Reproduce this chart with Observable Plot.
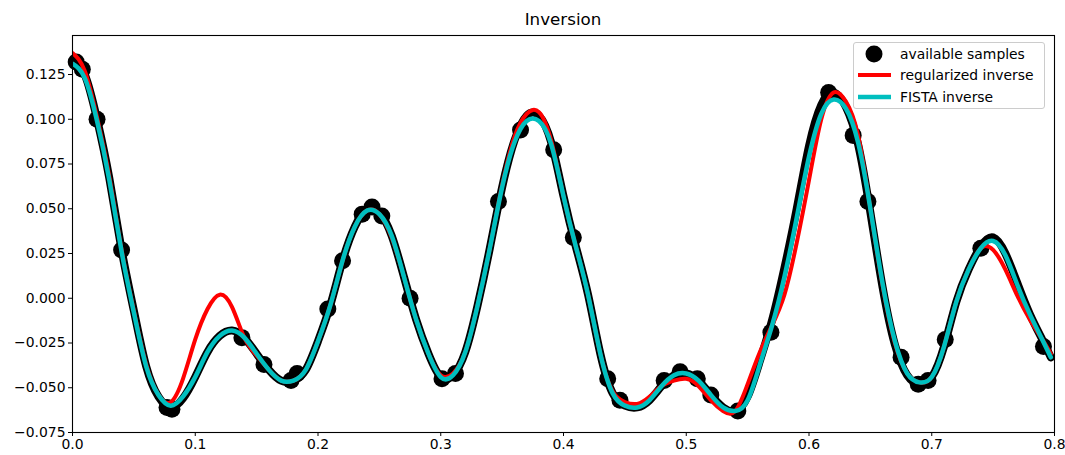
<!DOCTYPE html>
<html>
<head>
<meta charset="utf-8">
<script src="https://cdn.jsdelivr.net/npm/d3@7"></script>
<script src="https://cdn.jsdelivr.net/npm/@observablehq/plot@0.6"></script>
<style>
  html, body { margin: 0; padding: 0; background: #fff; }
  #wrap { position: relative; width: 1065px; height: 455px; font-family: "DejaVu Sans", sans-serif; }
  #title { position: absolute; left: 563px; top: 9px; transform: translateX(-50%); font-size: 16.7px; line-height: 20px; color: #000; white-space: nowrap; }
  #head { height: 30px; }
  #legend { position: absolute; left: 853px; top: 42px; width: 192px; height: 67px; border: 1px solid #ccc; border-radius: 3px; background: rgba(255,255,255,0.8); box-sizing: border-box; }
  .row { position: absolute; left: 0; height: 20px; width: 100%; }
  .row span { position: absolute; left: 46px; top: 0; font-size: 13.9px; line-height: 20px; color: #000; white-space: nowrap; }
  .sym { position: absolute; left: 3px; top: 0; }
</style>
</head>
<body>
<div id="wrap">
  <div id="head"></div>
  <div id="title">Inversion</div>
  <div id="chart"></div>
  <div id="legend"></div>
</div>
<script>
// grid of abscissae for the three curves
const xs = [0.00,0.01,0.02,0.03,0.04,0.05,0.06,0.07,0.08,0.09,
            0.10,0.11,0.12,0.13,0.14,0.15,0.16,0.17,0.18,0.19,
            0.20,0.21,0.22,0.23,0.24,0.25,0.26,0.27,0.28,0.29,
            0.30,0.31,0.32,0.33,0.34,0.35,0.36,0.37,0.38,0.39,
            0.40,0.41,0.42,0.43,0.44,0.45,0.46,0.47,0.48,0.49,
            0.50,0.51,0.52,0.53,0.54,0.55,0.56,0.57,0.58,0.59,
            0.60,0.61,0.62,0.63,0.64,0.65,0.66,0.67,0.68,0.69,
            0.70,0.71,0.72,0.73,0.74,0.75,0.76,0.77,0.78,0.79,0.797];

// true signal (black)
const truth = [0.134,0.125,0.100,0.067,0.027,-0.007,-0.038,-0.055,-0.061,-0.056,
               -0.044,-0.030,-0.021,-0.018,-0.022,-0.031,-0.040,-0.046,-0.046,-0.040,
               -0.024,-0.004,0.021,0.040,0.050,0.048,0.035,0.012,-0.012,-0.031,
               -0.044,-0.043,-0.030,-0.004,0.028,0.062,0.088,0.102,0.102,0.087,
               0.057,0.029,0.002,-0.031,-0.053,-0.060,-0.061,-0.057,-0.049,-0.043,
               -0.042,-0.046,-0.054,-0.061,-0.063,-0.055,-0.035,-0.012,0.017,0.050,
               0.085,0.108,0.115,0.107,0.086,0.048,0.006,-0.026,-0.043,-0.048,
               -0.044,-0.027,-0.002,0.016,0.029,0.034,0.025,0.008,-0.009,-0.023,-0.033];

// regularized inverse (red)
const regularized = [0.137,0.127,0.101,0.068,0.027,-0.007,-0.037,-0.054,-0.058,-0.045,
                     -0.023,-0.006,0.002,-0.005,-0.022,-0.032,-0.040,-0.046,-0.046,-0.040,
                     -0.024,-0.004,0.021,0.040,0.049,0.047,0.034,0.012,-0.012,-0.031,
                     -0.043,-0.042,-0.030,-0.004,0.028,0.063,0.090,0.103,0.104,0.088,
                     0.057,0.029,0.002,-0.031,-0.052,-0.058,-0.059,-0.055,-0.049,-0.046,
                     -0.045,-0.049,-0.057,-0.063,-0.063,-0.048,-0.030,-0.015,0.002,0.031,
                     0.066,0.100,0.115,0.110,0.091,0.050,0.007,-0.025,-0.042,-0.047,
                     -0.044,-0.027,-0.002,0.016,0.028,0.027,0.016,0.001,-0.012,-0.023,-0.031];

// FISTA inverse (cyan)
const fista = [0.131,0.123,0.099,0.066,0.026,-0.008,-0.038,-0.054,-0.060,-0.055,
               -0.044,-0.030,-0.021,-0.018,-0.022,-0.031,-0.040,-0.046,-0.046,-0.040,
               -0.024,-0.004,0.021,0.040,0.049,0.047,0.035,0.012,-0.012,-0.031,
               -0.044,-0.043,-0.030,-0.004,0.028,0.062,0.087,0.099,0.099,0.086,
               0.057,0.029,0.002,-0.031,-0.053,-0.060,-0.061,-0.057,-0.049,-0.043,
               -0.042,-0.046,-0.054,-0.061,-0.063,-0.057,-0.037,-0.015,0.012,0.045,
               0.079,0.103,0.111,0.106,0.087,0.050,0.008,-0.024,-0.042,-0.047,
               -0.044,-0.027,-0.002,0.016,0.028,0.032,0.024,0.007,-0.009,-0.023,-0.033];

// available samples (black dots)
const sampleX = [0.003,0.008,0.020,0.040,0.077,0.081,0.138,0.156,0.178,0.183,
                 0.208,0.220,0.236,0.244,0.252,0.275,0.301,0.312,0.347,0.365,
                 0.392,0.408,0.436,0.446,0.482,0.495,0.509,0.520,0.542,0.569,
                 0.616,0.636,0.648,0.675,0.689,0.697,0.711,0.740,0.791];
const sampleY = [0.132,0.128,0.100,0.027,-0.061,-0.062,-0.022,-0.037,-0.046,-0.042,
                 -0.006,0.021,0.047,0.051,0.046,0.000,-0.045,-0.042,0.054,0.094,
                 0.083,0.034,-0.045,-0.057,-0.046,-0.041,-0.045,-0.054,-0.063,-0.019,
                 0.115,0.091,0.054,-0.033,-0.048,-0.046,-0.023,0.028,-0.027];

const xTicks = [0.0,0.1,0.2,0.3,0.4,0.5,0.6,0.7,0.8];
const yTicks = [-0.075,-0.050,-0.025,0.000,0.025,0.050,0.075,0.100,0.125];

const seriesNames = ["available samples", "regularized inverse", "FISTA inverse"];
const seriesColors = ["#000000", "#ff0000", "#00bfbf"];

const truthRows = xs.map((x, i) => ({x, y: truth[i]}));
const regRows = xs.map((x, i) => ({x, y: regularized[i]}));
const fistaRows = xs.map((x, i) => ({x, y: fista[i]}));
const samples = sampleX.map((x, i) => ({x, y: sampleY[i]}));

const chart = Plot.plot({
  width: 1065,
  height: 425,
  marginTop: 5,
  marginBottom: 23,
  marginLeft: 72,
  marginRight: 11,
  style: {fontFamily: "DejaVu Sans, sans-serif", fontSize: "13.9px", color: "#000", background: "#fff"},
  x: {domain: [0, 0.8], ticks: xTicks, tickFormat: d3.format(".1f"), label: null},
  y: {domain: [-0.075, 0.1468], ticks: yTicks, tickFormat: d3.format(".3f"), label: null},
  marks: [
    Plot.line(truthRows, {x: "x", y: "y", stroke: "#000", strokeWidth: 8, curve: "natural", clip: true}),
    Plot.dot(samples, {x: "x", y: "y", r: 8.5, fill: seriesColors[0], stroke: "none"}),
    Plot.line(regRows, {x: "x", y: "y", stroke: seriesColors[1], strokeWidth: 4, curve: "natural", clip: true}),
    Plot.line(fistaRows, {x: "x", y: "y", stroke: seriesColors[2], strokeWidth: 4.5, curve: "natural", clip: true}),
    Plot.axisX({ticks: xTicks, tickFormat: d3.format(".1f"), tickSize: 4, tickPadding: 3, label: null}),
    Plot.axisY({ticks: yTicks, tickFormat: d3.format(".3f"), tickSize: 4, tickPadding: 3, label: null}),
    Plot.frame({stroke: "#000", strokeWidth: 1.1})
  ]
});
document.getElementById("chart").appendChild(chart);

// legend overlay (inside the axes, upper right)
const legend = d3.select("#legend");
const rowTops = [1, 22.3, 43.6];
seriesNames.forEach((name, i) => {
  const row = legend.append("div").attr("class", "row").style("top", rowTops[i] + "px");
  const svg = row.append("svg").attr("class", "sym").attr("width", 36).attr("height", 20);
  if (i === 0) {
    svg.append("circle").attr("cx", 17).attr("cy", 10).attr("r", 8.5).attr("fill", seriesColors[i]);
  } else {
    svg.append("line").attr("x1", 1).attr("x2", 34).attr("y1", 10).attr("y2", 10)
      .attr("stroke", seriesColors[i]).attr("stroke-width", i === 1 ? 4 : 4.5);
  }
  row.append("span").text(name);
});
</script>
</body>
</html>
